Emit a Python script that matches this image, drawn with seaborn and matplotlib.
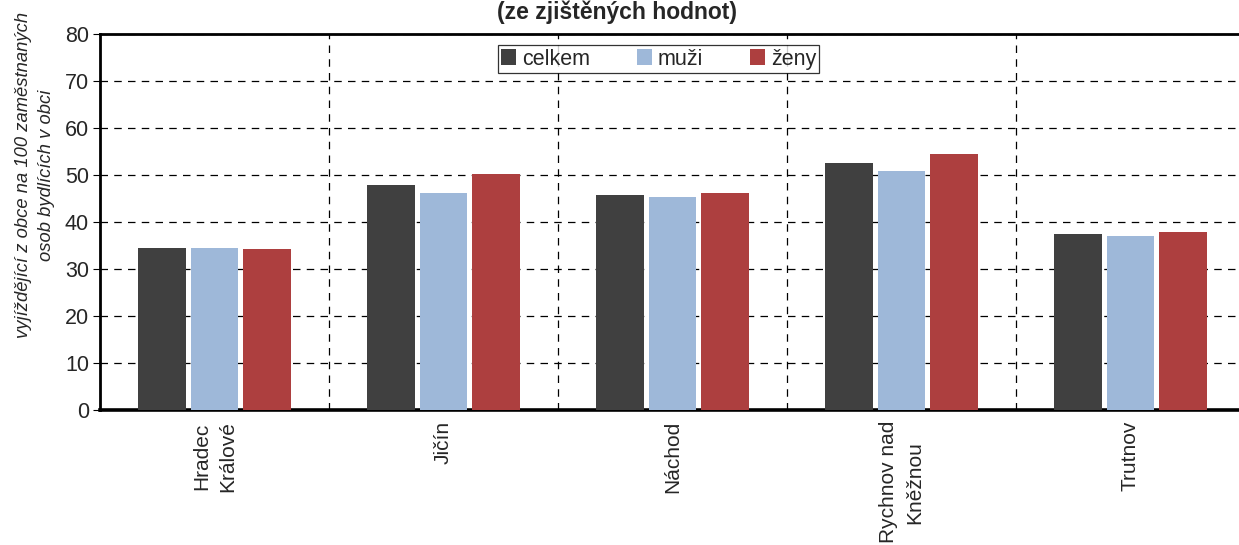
import seaborn as sns
import matplotlib.pyplot as plt
import matplotlib.ticker as ticker
import pandas as pd

sns.set_style("white")
plt.rcParams['font.family'] = ['Liberation Sans', 'DejaVu Sans']

## Data
okresy = ["Hradec\nKrálové", "Jičín", "Náchod", "Rychnov nad\nKněžnou", "Trutnov"]
celkem = [34.5, 47.9, 45.7, 52.6, 37.4]
muzi = [34.5, 46.2, 45.3, 50.9, 37.0]
zeny = [34.3, 50.2, 46.2, 54.5, 37.9]
skupiny = ["celkem", "muži", "ženy"]
barvy = ["#404040", "#9EB8D9", "#AD3F3F"]

data = pd.DataFrame({
    "okres": okresy * 3,
    "hodnota": celkem + muzi + zeny,
    "skupina": [s for s in skupiny for _ in okresy],
})

fig = plt.figure(figsize=(12.39, 5.45), dpi=100)
ax = fig.add_axes([100/1239, 135/545, 1145/1239, 376/545])

sns.barplot(data=data, x="okres", y="hodnota", hue="skupina", order=okresy,
            hue_order=skupiny, palette=barvy, width=0.69, gap=0.1,
            saturation=1, linewidth=0, ax=ax, zorder=3)

#--axes
ax.set_ylim(0, 80)
ax.set_xlim(-0.5, 4.5)
ax.yaxis.set_major_locator(ticker.MultipleLocator(10))
ax.set_xticks(range(len(okresy)))
ax.set_xticklabels(okresy, rotation=90, fontsize=15, va="top", ha="center",
                   linespacing=1.45)
ax.xaxis.set_minor_locator(ticker.FixedLocator([0.5, 1.5, 2.5, 3.5]))
ax.tick_params(axis="x", which="major", length=0, pad=8)
ax.tick_params(axis="x", which="minor", length=5, width=0.8, direction="out", color="black")
ax.tick_params(axis="y", which="major", length=5, width=0.8, direction="out",
               color="black", labelsize=15.5, left=True, pad=3)
ax.set_xlabel("")
ax.set_ylabel("")

#--grid
ax.grid(True, axis="y", which="major", linestyle=(0, (6, 5)), color="black", linewidth=0.9, zorder=0)
ax.grid(True, axis="x", which="minor", linestyle=(0, (6, 5)), color="black", linewidth=0.9, zorder=0)
ax.grid(False, axis="x", which="major")
ax.set_axisbelow(True)

for side in ["left", "top"]:
    ax.spines[side].set_color("black")
    ax.spines[side].set_linewidth(2)
ax.spines["bottom"].set_color("black")
ax.spines["bottom"].set_linewidth(2.6)
ax.spines["right"].set_visible(False)

#--legend
handles, labels = ax.get_legend_handles_labels()
leg = ax.legend(handles, labels, loc="upper center", bbox_to_anchor=(0.488, 0.97),
                ncol=3, fontsize=15.5, frameon=True, fancybox=False, handlelength=0.7,
                handleheight=0.7, columnspacing=2.2, handletextpad=0.25,
                borderpad=0.15, borderaxespad=0)
leg.get_frame().set_edgecolor("black")
leg.get_frame().set_linewidth(0.9)

#--texts
fig.text(617/1239, 1 - 1/545, "(ze zjištěných hodnot)", ha="center", va="top",
         fontsize=16.5, fontweight="bold")
fig.text(35/1239, 1 - 175/545, "vyjíždějící z obce na 100 zaměstnaných\nosob bydlících v obci",
         rotation=90, ha="center", va="center", fontsize=13.2, style="italic",
         linespacing=1.5)

fig.savefig("out.png", dpi=100)
plt.close()
